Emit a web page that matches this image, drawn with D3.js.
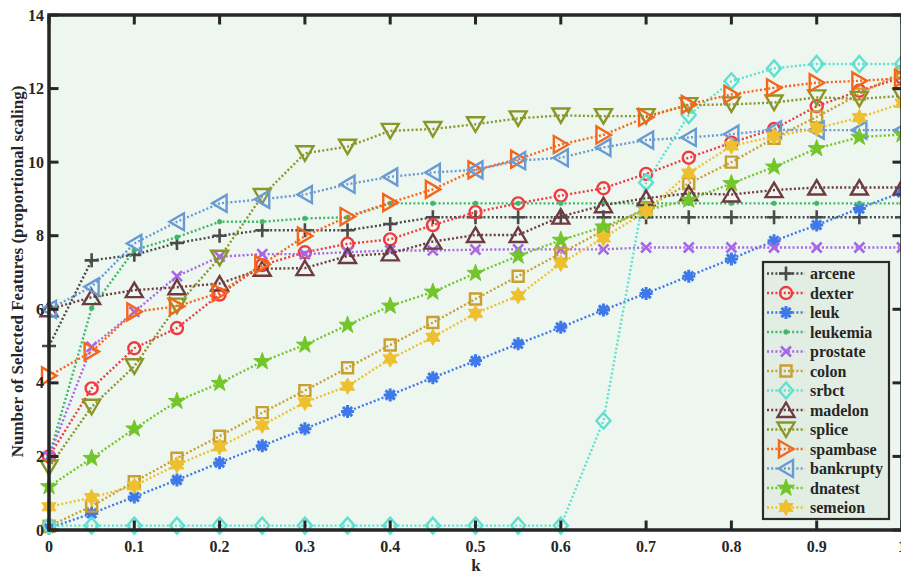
<!DOCTYPE html>
<html>
<head>
<meta charset="utf-8">
<script src="https://cdn.jsdelivr.net/npm/d3@7"></script>
<style>
  html, body { margin: 0; padding: 0; background: #ffffff; }
  svg { display: block; }
  text { font-family: "Liberation Serif", "Times New Roman", serif; font-weight: bold; fill: #262626; }
</style>
</head>
<body>
<svg id="chart" width="901" height="574"></svg>
<script>
// ---------------- DATA ----------------
const kValues = [0, 0.05, 0.1, 0.15, 0.2, 0.25, 0.3, 0.35, 0.4, 0.45, 0.5, 0.55, 0.6, 0.65, 0.7, 0.75, 0.8, 0.85, 0.9, 0.95, 1.0];

const seriesNames = ["arcene", "dexter", "leuk", "leukemia", "prostate", "colon", "srbct", "madelon", "splice", "spambase", "bankrupty", "dnatest", "semeion"];

const arcene    = [5.0, 7.33, 7.48, 7.8, 8.0, 8.15, 8.15, 8.15, 8.32, 8.5, 8.5, 8.5, 8.5, 8.5, 8.5, 8.5, 8.5, 8.5, 8.5, 8.5, 8.5];
const dexter    = [2.0, 3.85, 4.94, 5.49, 6.4, 7.2, 7.55, 7.78, 7.9, 8.29, 8.64, 8.88, 9.09, 9.29, 9.68, 10.12, 10.53, 10.9, 11.52, 11.94, 12.3];
const leuk      = [0.05, 0.45, 0.9, 1.36, 1.83, 2.29, 2.75, 3.22, 3.67, 4.14, 4.6, 5.06, 5.51, 5.98, 6.43, 6.9, 7.37, 7.86, 8.29, 8.74, 9.18];
const leukemia  = [2.0, 6.03, 7.61, 7.96, 8.38, 8.38, 8.47, 8.5, 8.88, 8.88, 8.88, 8.88, 8.88, 8.88, 8.88, 8.88, 8.88, 8.88, 8.88, 8.88, 8.88];
const prostate  = [2.0, 4.98, 5.93, 6.9, 7.43, 7.5, 7.5, 7.55, 7.6, 7.6, 7.62, 7.63, 7.63, 7.63, 7.68, 7.68, 7.68, 7.68, 7.68, 7.68, 7.68];
const colon     = [0.1, 0.65, 1.31, 1.95, 2.55, 3.19, 3.79, 4.41, 5.03, 5.64, 6.28, 6.9, 7.52, 8.14, 8.76, 9.42, 10.0, 10.65, 11.23, 11.85, 12.45];
const srbct     = [0.12, 0.12, 0.12, 0.12, 0.12, 0.12, 0.12, 0.12, 0.12, 0.12, 0.12, 0.12, 0.12, 2.97, 9.45, 11.28, 12.2, 12.55, 12.67, 12.67, 12.67];
const madelon   = [6.0, 6.33, 6.52, 6.6, 6.7, 7.1, 7.12, 7.45, 7.52, 7.84, 8.02, 8.02, 8.52, 8.83, 9.02, 9.15, 9.12, 9.24, 9.31, 9.31, 9.31];
const splice    = [1.7, 3.35, 4.45, 6.1, 7.4, 9.08, 10.24, 10.42, 10.85, 10.9, 11.03, 11.19, 11.27, 11.25, 11.25, 11.55, 11.57, 11.62, 11.76, 11.72, 11.8];
const spambase  = [4.19, 4.85, 5.93, 6.08, 6.45, 7.22, 7.99, 8.52, 8.9, 9.26, 9.79, 10.08, 10.48, 10.74, 11.22, 11.57, 11.84, 12.02, 12.16, 12.21, 12.28];
const bankrupty = [6.0, 6.61, 7.79, 8.38, 8.88, 8.99, 9.12, 9.4, 9.6, 9.72, 9.79, 10.04, 10.12, 10.4, 10.6, 10.67, 10.76, 10.88, 10.87, 10.87, 10.87];
const dnatest   = [1.18, 1.95, 2.75, 3.5, 3.99, 4.58, 5.03, 5.57, 6.09, 6.47, 6.98, 7.45, 7.88, 8.24, 8.7, 8.97, 9.42, 9.87, 10.37, 10.68, 10.75];
const semeion   = [0.63, 0.88, 1.2, 1.77, 2.26, 2.85, 3.47, 3.91, 4.65, 5.24, 5.89, 6.37, 7.25, 7.94, 8.66, 9.7, 10.44, 10.7, 10.92, 11.21, 11.6];

const seriesValues = [arcene, dexter, leuk, leukemia, prostate, colon, srbct, madelon, splice, spambase, bankrupty, dnatest, semeion];
const seriesColors = ["#4a4a4a", "#ef3b3f", "#3f78e8", "#3db868", "#a866e8", "#c9a030", "#5fe0d0", "#6e3c40", "#8a9628", "#f5661c", "#6a9ad2", "#72c62a", "#eec030"];
const seriesMarkers = ["plus", "circle", "asterisk", "dot", "cross", "square", "diamond", "triUp", "triDown", "triRight", "triLeft", "pentagram", "hexagram"];

const xTicks = [0, 0.1, 0.2, 0.3, 0.4, 0.5, 0.6, 0.7, 0.8, 0.9, 1];
const yTicks = [0, 2, 4, 6, 8, 10, 12, 14];

// ---------------- LAYOUT ----------------
const svg = d3.select("#chart");
const pL = 49, pR = 902, pT = 15, pB = 530;
const x = d3.scaleLinear().domain([0, 1]).range([pL, pR]);
const y = d3.scaleLinear().domain([0, 14]).range([pB, pT]);
const axisColor = "#262626";

// plot background
svg.append("rect").attr("x", pL).attr("y", pT)
  .attr("width", pR - pL).attr("height", pB - pT)
  .attr("fill", "#eef7ef");

// marker shapes
function starPath(n, R, r) {
  let p = "";
  for (let i = 0; i < 2 * n; i++) {
    const a = -Math.PI / 2 + i * Math.PI / n;
    const rad = i % 2 === 0 ? R : r;
    p += (i === 0 ? "M" : "L") + (rad * Math.cos(a)).toFixed(2) + "," + (rad * Math.sin(a)).toFixed(2);
  }
  return p + "Z";
}
const markerDefs = {
  plus:     { d: "M-7,0H7M0,-7V7", fill: false, sw: 2.6 },
  circle:   { d: "M6,0A6,6 0 1,1 -6,0A6,6 0 1,1 6,0Z", fill: false, sw: 2.4 },
  asterisk: { d: "M-6.5,0H6.5M0,-6.5V6.5M-4.6,-4.6L4.6,4.6M-4.6,4.6L4.6,-4.6", fill: false, sw: 3 },
  dot:      { d: "M2.4,0A2.4,2.4 0 1,1 -2.4,0A2.4,2.4 0 1,1 2.4,0Z", fill: true, sw: 0.5 },
  cross:    { d: "M-5,-5L5,5M-5,5L5,-5", fill: false, sw: 2.6 },
  square:   { d: "M-5.5,-5.5H5.5V5.5H-5.5Z", fill: false, sw: 2.4 },
  diamond:  { d: "M0,-8L7,0L0,8L-7,0Z", fill: false, sw: 2.4 },
  triUp:    { d: "M0,-7.5L8.5,7L-8.5,7Z", fill: false, sw: 2.4 },
  triDown:  { d: "M0,7.5L8.5,-7L-8.5,-7Z", fill: false, sw: 2.4 },
  triRight: { d: "M7.5,0L-7,-8.5L-7,8.5Z", fill: false, sw: 2.4 },
  triLeft:  { d: "M-7.5,0L7,-8.5L7,8.5Z", fill: false, sw: 2.4 },
  pentagram:{ d: starPath(5, 9, 3.6), fill: true, sw: 1 },
  hexagram: { d: starPath(6, 8.2, 4.6), fill: true, sw: 1 }
};

function drawMarker(g, type, color, cx, cy) {
  const m = markerDefs[type];
  g.append("path")
    .attr("d", m.d)
    .attr("transform", `translate(${cx},${cy})`)
    .attr("fill", m.fill ? color : "none")
    .attr("stroke", color)
    .attr("stroke-width", m.sw)
    .attr("stroke-linejoin", "miter");
}

// clip for data
svg.append("clipPath").attr("id", "plotclip").append("rect")
  .attr("x", pL - 12).attr("y", pT - 12).attr("width", pR - pL + 24).attr("height", pB - pT + 24);

const dataG = svg.append("g").attr("clip-path", "url(#plotclip)");
const line = d3.line().x((d, i) => x(kValues[i])).y(d => y(d));

seriesNames.forEach((name, si) => {
  const g = dataG.append("g");
  const color = seriesColors[si];
  g.append("path")
    .attr("d", line(seriesValues[si]))
    .attr("fill", "none")
    .attr("stroke", color)
    .attr("stroke-width", 2.4)
    .attr("stroke-dasharray", "2,2.2");
  seriesValues[si].forEach((v, i) => {
    drawMarker(g, seriesMarkers[si], color, x(kValues[i]), y(v));
  });
});

// axes box
const axG = svg.append("g");
axG.append("rect").attr("x", pL).attr("y", pT)
  .attr("width", pR - pL).attr("height", pB - pT)
  .attr("fill", "none").attr("stroke", axisColor).attr("stroke-width", 3.5);

// ticks
const tl = 9.5;
xTicks.forEach(t => {
  axG.append("line").attr("x1", x(t)).attr("x2", x(t)).attr("y1", pB).attr("y2", pB - tl)
    .attr("stroke", axisColor).attr("stroke-width", 3);
  axG.append("line").attr("x1", x(t)).attr("x2", x(t)).attr("y1", pT).attr("y2", pT + tl)
    .attr("stroke", axisColor).attr("stroke-width", 3);
  axG.append("text").attr("x", x(t)).attr("y", 552).attr("text-anchor", "middle")
    .attr("font-size", 16).text(String(t));
});
yTicks.forEach(t => {
  axG.append("line").attr("x1", pL).attr("x2", pL + tl).attr("y1", y(t)).attr("y2", y(t))
    .attr("stroke", axisColor).attr("stroke-width", 3);
  axG.append("line").attr("x1", pR).attr("x2", pR - tl).attr("y1", y(t)).attr("y2", y(t))
    .attr("stroke", axisColor).attr("stroke-width", 3);
  axG.append("text").attr("x", 44).attr("y", y(t) + 5.5).attr("text-anchor", "end")
    .attr("font-size", 16).text(String(t));
});

// axis titles
svg.append("text").attr("x", 476).attr("y", 571).attr("text-anchor", "middle")
  .attr("font-size", 17).text("k");
svg.append("text").attr("transform", "translate(22.5,271.5) rotate(-90)")
  .attr("text-anchor", "middle").attr("font-size", 17)
  .text("Number of Selected Features (proportional scaling)");

// legend
const lg = svg.append("g");
lg.append("rect").attr("x", 763).attr("y", 262).attr("width", 126).attr("height", 257)
  .attr("fill", "#e2eee4").attr("stroke", "#2a2a2a").attr("stroke-width", 2.2);
seriesNames.forEach((name, si) => {
  const cy = 273.5 + si * 19.5;
  const color = seriesColors[si];
  lg.append("line").attr("x1", 767).attr("x2", 805).attr("y1", cy).attr("y2", cy)
    .attr("stroke", color).attr("stroke-width", 2.4).attr("stroke-dasharray", "2,2.2");
  drawMarker(lg, seriesMarkers[si], color, 786, cy);
  lg.append("text").attr("x", 810).attr("y", cy + 5.5).attr("font-size", 16).text(name);
});
</script>
</body>
</html>
